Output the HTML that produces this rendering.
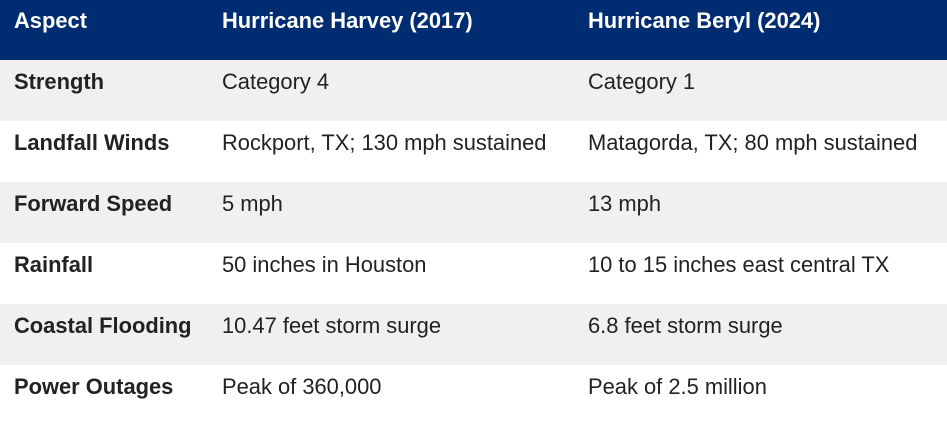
<!DOCTYPE html>
<html><head><style>
body{margin:0;width:947px;height:408px;overflow:hidden;background:#fff;font-family:"Liberation Sans",Arial,sans-serif;}
.r{position:relative;height:61px;font-size:21.9px;color:#222;}
.r div{position:absolute;top:9px;line-height:26px;white-space:nowrap;}
.h{background:#002D72;color:#fff;font-weight:bold;height:60px;}
.h div{top:8px;}
.g{background:#f0f0f0;}
.a{left:14px;font-weight:bold;}
.b{left:222px;}
.c{left:588px;}
</style></head><body>
<div class="r h"><div class="a">Aspect</div><div class="b">Hurricane Harvey (2017)</div><div class="c">Hurricane Beryl (2024)</div></div>
<div class="r g"><div class="a">Strength</div><div class="b">Category 4</div><div class="c">Category 1</div></div>
<div class="r"><div class="a">Landfall Winds</div><div class="b">Rockport, TX; 130 mph sustained</div><div class="c">Matagorda, TX; 80 mph sustained</div></div>
<div class="r g"><div class="a">Forward Speed</div><div class="b">5 mph</div><div class="c">13 mph</div></div>
<div class="r"><div class="a">Rainfall</div><div class="b">50 inches in Houston</div><div class="c">10 to 15 inches east central TX</div></div>
<div class="r g"><div class="a">Coastal Flooding</div><div class="b">10.47 feet storm surge</div><div class="c">6.8 feet storm surge</div></div>
<div class="r"><div class="a">Power Outages</div><div class="b">Peak of 360,000</div><div class="c">Peak of 2.5 million</div></div>
</body></html>
